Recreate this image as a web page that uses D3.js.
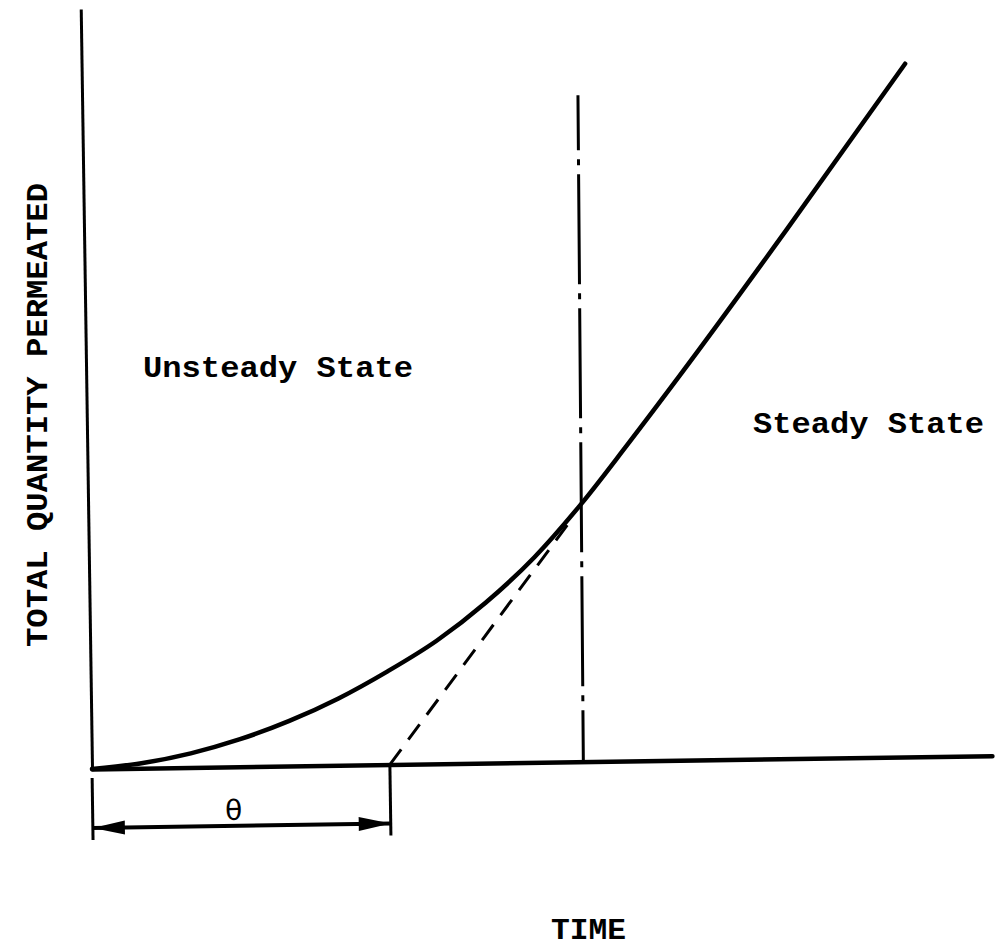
<!DOCTYPE html>
<html>
<head>
<meta charset="utf-8">
<script src="https://cdn.jsdelivr.net/npm/d3@7"></script>
<style>
  body { margin: 0; background: #fff; }
  text { font-family: "Liberation Mono", "DejaVu Sans Mono", monospace; font-weight: bold; fill: #000; }
</style>
</head>
<body>
<script>
var width = 995, height = 948;

// permeation curve (time, quantity)
var curveTime = [0, 5.5, 11, 16.5, 22, 27.5, 33, 38.5, 44, 49.5, 54.7, 60, 66, 78, 91.5];
var curveQty  = [0, 0.66, 1.87, 3.63, 5.94, 8.8, 12.27, 16.2, 21.1, 27.0, 33.8, 41.6, 50.7, 69.5, 91.2];

// time lag theta: extrapolated steady line hits the time axis here
var lagTime = 33.1;
var tangentTime = [33.1, 54.0];
var tangentQty  = [0, 32.4];

// boundary between the two regimes (dash-dot), top to bottom
var boundaryTime = [55.1, 54.6];
var boundaryQty  = [87.7, 0];

var regionLabels = ["Unsteady State", "Steady State"];
var xTitle = "TIME";
var yTitle = "TOTAL QUANTITY PERMEATED";

var svg = d3.select("body").append("svg")
  .attr("width", width)
  .attr("height", height);

var x = d3.scaleLinear().domain([0, 100]).range([0, 900]);
var y = d3.scaleLinear().domain([0, 100]).range([0, -760]);

// the scanned figure is tilted a little
var plot = svg.append("g")
  .attr("transform", "translate(92,769) rotate(-0.85)");

var xAxis = plot.append("g")
  .call(d3.axisBottom(x).tickValues([]).tickSizeOuter(0));
xAxis.select(".domain").attr("stroke", "#000").attr("stroke-width", 4.5).attr("stroke-linecap", "round");

var yAxis = plot.append("g")
  .call(d3.axisLeft(y).tickValues([]).tickSizeOuter(0));
yAxis.select(".domain").attr("stroke", "#000").attr("stroke-width", 3);

var line = d3.line()
  .x(d => x(d[0]))
  .y(d => y(d[1]));

plot.append("path")
  .datum(d3.zip(boundaryTime, boundaryQty))
  .attr("d", line)
  .attr("fill", "none")
  .attr("stroke", "#000")
  .attr("stroke-width", 3)
  .attr("stroke-dasharray", "110,9,6,9")
  .attr("stroke-dashoffset", 55);

plot.append("path")
  .datum(d3.zip(tangentTime, tangentQty))
  .attr("d", line)
  .attr("fill", "none")
  .attr("stroke", "#000")
  .attr("stroke-width", 3)
  .attr("stroke-dasharray", "19,12");

plot.append("path")
  .datum(d3.zip(curveTime, curveQty))
  .attr("d", d3.line().x(d => x(d[0])).y(d => y(d[1])).curve(d3.curveMonotoneX))
  .attr("fill", "none")
  .attr("stroke", "#000")
  .attr("stroke-width", 4.5)
  .attr("stroke-linecap", "round");

// theta bracket below the axis
var bracket = plot.append("g");
bracket.append("line")
  .attr("x1", x(0)).attr("x2", x(0))
  .attr("y1", 9).attr("y2", 71)
  .attr("stroke", "#000").attr("stroke-width", 3);
bracket.append("line")
  .attr("x1", x(lagTime)).attr("x2", x(lagTime))
  .attr("y1", 0).attr("y2", 71)
  .attr("stroke", "#000").attr("stroke-width", 3);
bracket.append("line")
  .attr("x1", x(0)).attr("x2", x(lagTime))
  .attr("y1", 59).attr("y2", 59)
  .attr("stroke", "#000").attr("stroke-width", 4);

var a0 = x(0), a1 = x(lagTime);
bracket.append("path")
  .attr("d", "M" + a0 + ",59L" + (a0 + 32) + ",52L" + (a0 + 32) + ",66Z")
  .attr("fill", "#000");
bracket.append("path")
  .attr("d", "M" + a1 + ",59L" + (a1 - 32) + ",52L" + (a1 - 32) + ",66Z")
  .attr("fill", "#000");

bracket.append("text")
  .attr("x", x(lagTime / 2) - 8)
  .attr("y", 53)
  .attr("text-anchor", "middle")
  .style("font-family", "'DejaVu Sans', sans-serif")
  .style("font-weight", "normal")
  .style("font-size", "28px")
  .text("\u03b8");

// labels
svg.append("text")
  .attr("x", 143).attr("y", 377)
  .attr("textLength", 270).attr("lengthAdjust", "spacingAndGlyphs")
  .style("font-size", "29px")
  .text(regionLabels[0]);

svg.append("text")
  .attr("x", 753).attr("y", 433)
  .attr("textLength", 231).attr("lengthAdjust", "spacingAndGlyphs")
  .style("font-size", "29px")
  .text(regionLabels[1]);

svg.append("text")
  .attr("x", 551).attr("y", 939)
  .attr("textLength", 75).attr("lengthAdjust", "spacingAndGlyphs")
  .style("font-size", "29px")
  .text(xTitle);

svg.append("text")
  .attr("transform", "translate(47,647) rotate(-90)")
  .attr("textLength", 464).attr("lengthAdjust", "spacingAndGlyphs")
  .style("font-size", "29px")
  .text(yTitle);
</script>
</body>
</html>
